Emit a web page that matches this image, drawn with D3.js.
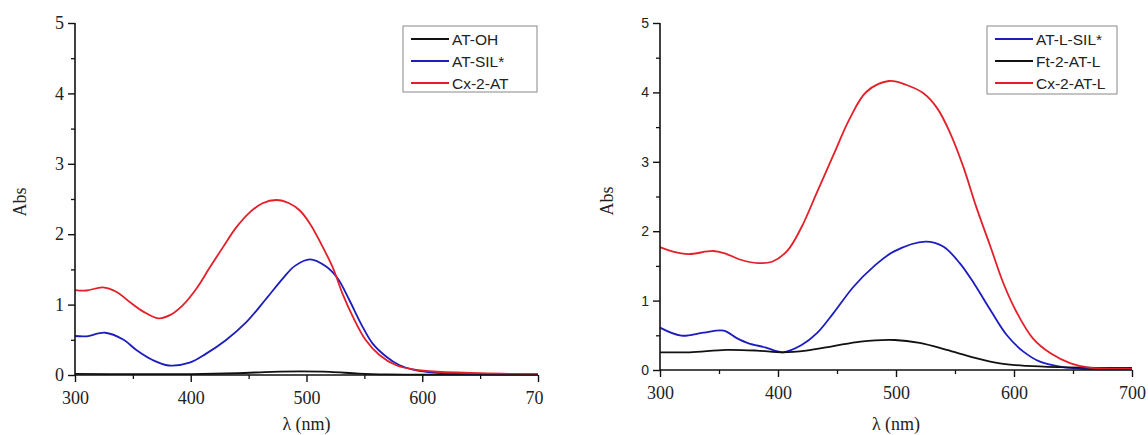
<!DOCTYPE html>
<html><head><meta charset="utf-8">
<script src="https://cdn.jsdelivr.net/npm/d3@7"></script>
<style>body{margin:0;background:#fff}svg{display:block}</style>
</head><body><svg id="c" width="1148" height="435"></svg>
<script>
// ---- Data ----
const xTicks = [300, 400, 500, 600, 700];
const yTicks = [0, 1, 2, 3, 4, 5];
const leftNames = ["AT-OH", "AT-SIL*", "Cx-2-AT"];
const rightNames = ["AT-L-SIL*", "Ft-2-AT-L", "Cx-2-AT-L"];

const atOH = [[300,0.015],[350,0.012],[400,0.012],[440,0.025],[470,0.045],[495,0.052],[520,0.045],[545,0.02],[570,0.008],[600,0.005],[650,0.004],[700,0.004]];
const atSIL = [[300,0.554],[310,0.55],[326,0.60],[342,0.50],[353,0.355],[367,0.213],[381,0.135],[399,0.175],[413,0.30],[430,0.49],[448,0.75],[465,1.08],[480,1.38],[490,1.55],[503,1.643],[517,1.54],[527,1.37],[537,1.065],[547,0.73],[557,0.45],[569,0.26],[580,0.142],[594,0.07],[610,0.035],[640,0.015],[700,0.01]];
const cx2AT = [[300,1.207],[310,1.20],[324,1.245],[336,1.18],[347,1.04],[359,0.90],[372,0.805],[382,0.85],[393,0.99],[405,1.23],[416,1.515],[428,1.82],[439,2.09],[451,2.31],[462,2.44],[474,2.486],[485,2.44],[494,2.34],[503,2.15],[514,1.82],[523,1.515],[531,1.16],[540,0.83],[551,0.50],[563,0.284],[577,0.142],[592,0.08],[610,0.05],[650,0.025],[700,0.012]];

const atLSIL = [[300,0.61],[318,0.495],[337,0.54],[354,0.567],[365,0.46],[375,0.385],[389,0.327],[404,0.255],[420,0.36],[433,0.53],[447,0.82],[464,1.20],[481,1.49],[498,1.705],[525,1.85],[540,1.78],[554,1.54],[566,1.25],[580,0.865],[594,0.50],[608,0.265],[622,0.12],[639,0.048],[659,0.015],[700,0.01]];
const ft2ATL = [[300,0.255],[325,0.255],[356,0.29],[382,0.28],[404,0.255],[424,0.28],[447,0.345],[470,0.41],[499,0.432],[520,0.39],[543,0.29],[566,0.18],[588,0.095],[611,0.058],[639,0.04],[670,0.032],[700,0.03]];
const cx2ATL = [[300,1.77],[311,1.705],[324,1.67],[345,1.715],[355,1.68],[369,1.585],[383,1.54],[395,1.56],[408,1.72],[420,2.06],[433,2.56],[447,3.10],[461,3.63],[475,4.01],[494,4.164],[509,4.107],[523,3.99],[535,3.77],[546,3.41],[557,2.93],[568,2.35],[580,1.78],[591,1.25],[602,0.84],[616,0.456],[631,0.24],[648,0.096],[664,0.034],[700,0.02]];

const BLACK = "#111", BLUE = "#1c1cc0", RED = "#e3202a";

const svg = d3.select("#c");

function panel(cfg) {
  const x = d3.scaleLinear().domain([300, 700]).range([cfg.x0, cfg.x1]);
  const y = d3.scaleLinear().domain([0, 5]).range([cfg.y0, cfg.y1]);
  const g = svg.append("g");

  // minor ticks
  const xMinor = d3.axisBottom(x).tickValues(d3.range(350, 701, 100)).tickSize(4).tickFormat("");
  g.append("g").attr("transform", `translate(0,${cfg.y0})`).call(xMinor)
    .call(s => { s.select(".domain").remove(); s.selectAll("line").attr("stroke", "#111").attr("stroke-width", 1.3); });
  const yMinor = d3.axisLeft(y).tickValues(d3.range(0.5, 5, 1)).tickSize(4).tickFormat("");
  g.append("g").attr("transform", `translate(${cfg.x0},0)`).call(yMinor)
    .call(s => { s.select(".domain").remove(); s.selectAll("line").attr("stroke", "#111").attr("stroke-width", 1.3); });

  // series
  const line = d3.line().x(d => x(d[0])).y(d => y(d[1])).curve(d3.curveCatmullRom.alpha(0.5));
  cfg.series.forEach(s => {
    g.append("path").datum(s.data).attr("d", line).attr("fill", "none")
      .attr("stroke", s.color).attr("stroke-width", 1.8);
  });

  // major axes
  const xAxis = d3.axisBottom(x).tickValues(xTicks).tickSize(7).tickPadding(5)
    .tickFormat(cfg.xFmt);
  const gx = g.append("g").attr("transform", `translate(0,${cfg.y0})`).call(xAxis);
  gx.select(".domain").attr("stroke", "#111").attr("stroke-width", 1.6);
  gx.selectAll("line").attr("stroke", "#111").attr("stroke-width", 1.4);
  gx.selectAll("text").attr("font-family", "Liberation Serif, Times New Roman, serif")
    .attr("font-size", 18).attr("fill", "#222").attr("dy", "0.95em");
  if (cfg.lastDx) gx.selectAll("text").filter(d => d === 700).attr("dx", cfg.lastDx);

  const yAxis = d3.axisLeft(y).tickValues(yTicks).tickSize(7).tickPadding(4).tickFormat(d3.format("d"));
  const gy = g.append("g").attr("transform", `translate(${cfg.x0},0)`).call(yAxis);
  gy.select(".domain").attr("stroke", "#111").attr("stroke-width", 1.6);
  gy.selectAll("line").attr("stroke", "#111").attr("stroke-width", 1.4);
  gy.selectAll("text").attr("font-family", cfg.yFont).attr("font-size", cfg.yFontSize).attr("fill", "#222");
  gy.selectAll("path.domain").attr("d", `M0,${cfg.y0}V${cfg.y1}`);
  gx.selectAll("path.domain").attr("d", `M${cfg.x0},0H${cfg.x1}`);

  // titles
  g.append("text").attr("transform", `translate(${cfg.yTitleX},${cfg.yTitleY}) rotate(-90)`)
    .attr("text-anchor", "middle").attr("font-family", "Liberation Serif, Times New Roman, serif")
    .attr("font-size", 18).attr("fill", "#222").text("Abs");
  g.append("text").attr("x", (cfg.x0 + cfg.x1) / 2).attr("y", 430)
    .attr("text-anchor", "middle").attr("font-family", "Liberation Serif, Times New Roman, serif")
    .attr("font-size", 18).attr("fill", "#222").text("λ (nm)");

  // legend
  const L = cfg.legend;
  g.append("rect").attr("x", L.x).attr("y", L.y).attr("width", L.w).attr("height", L.h)
    .attr("fill", "#fff").attr("stroke", "#888").attr("stroke-width", 1);
  cfg.series.forEach((s, i) => {
    const yy = L.y + 13 + i * 22;
    g.append("line").attr("x1", L.x + 8).attr("x2", L.x + 46).attr("y1", yy).attr("y2", yy)
      .attr("stroke", s.color).attr("stroke-width", 1.8);
    g.append("text").attr("x", L.x + 49).attr("y", yy + 5.5)
      .attr("font-family", "Liberation Sans, Arial, sans-serif").attr("font-size", 15.5)
      .attr("fill", "#222").text(s.name);
  });
}

panel({
  x0: 75, x1: 538, y0: 375, y1: 23,
  xFmt: d => d === 700 ? "70" : String(d), lastDx: -4,
  yFont: "Liberation Serif, Times New Roman, serif", yFontSize: 18,
  yTitleX: 26, yTitleY: 202,
  series: [
    { name: leftNames[0], data: atOH, color: BLACK },
    { name: leftNames[1], data: atSIL, color: BLUE },
    { name: leftNames[2], data: cx2AT, color: RED }
  ],
  legend: { x: 403, y: 26, w: 134, h: 66 }
});

panel({
  x0: 660, x1: 1132, y0: 370, y1: 23,
  xFmt: d => String(d),
  yFont: "Liberation Sans, Arial, sans-serif", yFontSize: 14,
  yTitleX: 613, yTitleY: 201,
  series: [
    { name: rightNames[0], data: atLSIL, color: BLUE },
    { name: rightNames[1], data: ft2ATL, color: BLACK },
    { name: rightNames[2], data: cx2ATL, color: RED }
  ],
  legend: { x: 987, y: 26, w: 130, h: 68 }
});
</script></body></html>
